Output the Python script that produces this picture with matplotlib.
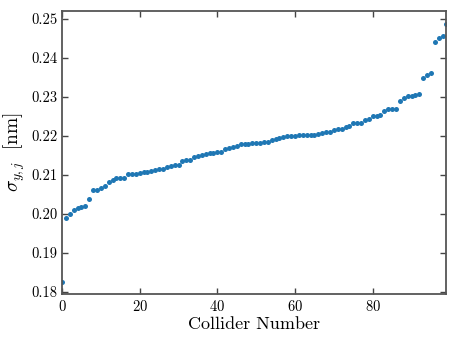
import matplotlib
matplotlib.use("Agg")
import matplotlib.pyplot as plt
import numpy as np

collider = list(range(100))
sigma = [
    0.1826, 0.1988, 0.1999, 0.2010, 0.2014, 0.2017, 0.2019, 0.2037, 0.2062, 0.2062,
    0.2066, 0.2071, 0.2082, 0.2087, 0.2091, 0.2091, 0.2092, 0.2102, 0.2103, 0.2103,
    0.2104, 0.2106, 0.2108, 0.2110, 0.2112, 0.2115, 0.2116, 0.2119, 0.2123, 0.2124,
    0.2124, 0.2136, 0.2137, 0.2137, 0.2146, 0.2148, 0.2152, 0.2154, 0.2156, 0.2157,
    0.2158, 0.2159, 0.2166, 0.2168, 0.2172, 0.2173, 0.2178, 0.2179, 0.2180, 0.2181,
    0.2181, 0.2182, 0.2183, 0.2184, 0.2190, 0.2192, 0.2195, 0.2197, 0.2199, 0.2199,
    0.2199, 0.2202, 0.2203, 0.2203, 0.2203, 0.2203, 0.2204, 0.2208, 0.2209, 0.2211,
    0.2214, 0.2217, 0.2218, 0.2222, 0.2226, 0.2234, 0.2234, 0.2234, 0.2240, 0.2244,
    0.2250, 0.2251, 0.2253, 0.2265, 0.2269, 0.2269, 0.2270, 0.2290, 0.2297, 0.2301,
    0.2303, 0.2304, 0.2308, 0.2349, 0.2355, 0.2361, 0.2442, 0.2450, 0.2456, 0.2488,
]
xticks = [0, 20, 40, 60, 80]
yticks = [0.18, 0.19, 0.20, 0.21, 0.22, 0.23, 0.24, 0.25]

plt.rcParams['font.family'] = 'serif'
plt.rcParams['font.serif'] = ['cmr10']
plt.rcParams['mathtext.fontset'] = 'cm'
plt.rcParams['axes.formatter.use_mathtext'] = True

fig = plt.figure(figsize=(4.57, 3.43), dpi=100)
ax = fig.add_axes([0.1357, 0.1414, 0.977 - 0.1357, 0.9688 - 0.1414])
ax.plot(collider, sigma, 'o', color='#1f77b4', ms=3.6, mec='none')
ax.set_xlim(0, 99)
ax.margins(y=0.05)
ax.set_xticks(xticks)
ax.set_yticks(yticks)
ax.set_yticklabels([f"{t:.2f}" for t in yticks])
ax.tick_params(direction='in', top=True, right=True, length=4, width=1,
               labelsize=10.5, color='#444444')
for s in ax.spines.values():
    s.set_color('#555555')
    s.set_linewidth(1.3)
ax.set_xlabel('Collider Number', fontsize=13, labelpad=2)
ax.set_ylabel(r'$\sigma_{y,j}\ \ [\mathrm{nm}]$', fontsize=14, labelpad=3)
fig.savefig('out.png', dpi=100)
